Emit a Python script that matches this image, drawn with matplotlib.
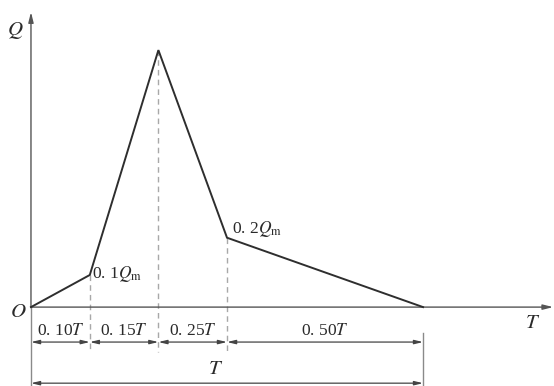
import matplotlib
matplotlib.use("Agg")
import matplotlib.pyplot as plt

plt.rcParams['font.family'] = ['Liberation Serif', 'DejaVu Serif']
plt.rcParams['mathtext.fontset'] = 'stix'

# hydrograph vertices (time as fraction of T, discharge as fraction of Qm)
t_pts = [0.0, 0.15, 0.325, 0.50, 1.0]
q_pts = [0.0, 0.125, 1.0, 0.27, 0.0]
seg_labels = [r"0. 10$T$", r"0. 15$T$", r"0. 25$T$", r"0. 50$T$"]
point_labels = [r"0. 1$Q_{\rm m}$", r"0. 2$Q_{\rm m}$"]

W, H = 554, 386
fig = plt.figure(figsize=(W / 100, H / 100), dpi=100)
ax = fig.add_axes([0, 0, 1, 1])
ax.set_xlim(-0.079, 1.334)
ax.set_ylim(-0.307, 1.195)
ax.axis('off')

axis_col = '#8a8a8a'
line_col = '#2e2e2e'
dash_col = '#a8a8a8'
txt_col = '#2a2a2a'

# axes with arrows
ax.annotate('', xy=(1.332, 0), xytext=(0, 0),
            arrowprops=dict(arrowstyle='-|>,head_length=0.6,head_width=0.15', color='#555555', lw=1.0, shrinkA=0, shrinkB=0))
ax.annotate('', xy=(0, 1.148), xytext=(0, 0),
            arrowprops=dict(arrowstyle='-|>,head_length=0.6,head_width=0.15', color='#555555', lw=1.0, shrinkA=0, shrinkB=0))

# hydrograph
ax.plot(t_pts, q_pts, color=line_col, lw=1.4, solid_joinstyle='miter', zorder=3)

# dashed verticals
for t, q in zip(t_pts[1:4], q_pts[1:4]):
    ax.plot([t, t], [q, -0.175], color=dash_col, lw=1.0, ls=(0, (4, 3)), zorder=1)

# extension lines
ax.plot([0, 0], [0, -0.307], color=axis_col, lw=1.0)
ax.plot([1.0, 1.0], [-0.101, -0.307], color=axis_col, lw=1.0)

# dimension line 1 (segments)
y1 = -0.136
for a, b, lab in zip(t_pts[:-1], t_pts[1:], seg_labels):
    ax.annotate('', xy=(b, y1), xytext=(a, y1),
                arrowprops=dict(arrowstyle='<|-|>,head_length=0.5,head_width=0.12', color='#444444', lw=0.9,
                                shrinkA=0, shrinkB=0))
    ax.text((a + b) / 2, y1 + 0.01, lab, ha='center', va='bottom', fontsize=12.5, color=txt_col)

# dimension line 2 (total)
y2 = -0.296
ax.annotate('', xy=(1.0, y2), xytext=(0.0, y2),
            arrowprops=dict(arrowstyle='<|-|>,head_length=0.5,head_width=0.12', color='#444444', lw=0.9,
                            shrinkA=0, shrinkB=0))
ax.text(0.47, y2 + 0.015, r"$T$", ha='center', va='bottom', fontsize=15, color=txt_col)

# point labels
ax.text(t_pts[1] + 0.005, q_pts[1] + 0.005, point_labels[0], ha='left', va='center', fontsize=12.5, color=txt_col)
ax.text(t_pts[3] + 0.012, q_pts[3] + 0.035, point_labels[1], ha='left', va='center', fontsize=12.5, color=txt_col)

# axis labels
ax.text(-0.041, 1.078, r"$\mathbf{\mathit{Q}}$", ha='center', va='center', fontsize=15, color=txt_col)
ax.text(-0.032, -0.02, r"$O$", ha='center', va='center', fontsize=15, color=txt_col)
ax.text(1.28, -0.062, r"$T$", ha='center', va='center', fontsize=15, color=txt_col)

fig.savefig('out.png', dpi=100)
